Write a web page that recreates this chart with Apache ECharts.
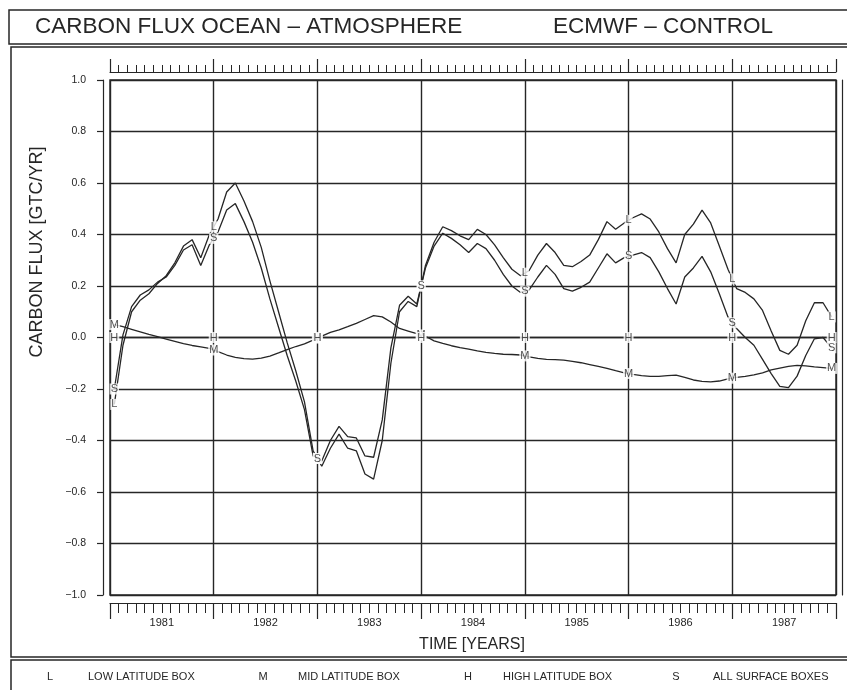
<!DOCTYPE html>
<html><head><meta charset="utf-8">
<script src="https://cdn.jsdelivr.net/npm/echarts@6/dist/echarts.min.js"></script>
<style>html,body{margin:0;padding:0;background:#fff}#c{width:847px;height:690px}</style>
</head><body><div id="c"></div>
<script>
// ---- data (monthly values, Jan 1981 .. Dec 1987) ----
const years = ['1981','1982','1983','1984','1985','1986','1987'];
const yTickLabels = ['\u22121.0','\u22120.8','\u22120.6','\u22120.4','\u22120.2','0.0','0.2','0.4','0.6','0.8','1.0'];
const legendKeys = ['L','M','H','S'];
const legendNames = ['LOW LATITUDE BOX','MID LATITUDE BOX','HIGH LATITUDE BOX','ALL SURFACE BOXES'];

const lowLat = [
  -0.26, -0.03, 0.10, 0.145, 0.17, 0.21, 0.24, 0.29, 0.355, 0.38, 0.31, 0.40,
  0.46, 0.565, 0.60, 0.53, 0.45, 0.35, 0.22, 0.10, -0.02, -0.13, -0.25, -0.44,
  -0.50, -0.43, -0.375, -0.43, -0.44, -0.53, -0.55, -0.40, -0.10, 0.10, 0.14, 0.12,
  0.28, 0.37, 0.43, 0.415, 0.395, 0.38, 0.42, 0.40, 0.36, 0.31, 0.265, 0.24,
  0.26, 0.32, 0.365, 0.33, 0.28, 0.275, 0.295, 0.32, 0.38, 0.45, 0.42, 0.445,
  0.465, 0.48, 0.46, 0.41, 0.345, 0.29, 0.40, 0.44, 0.495, 0.445, 0.355, 0.265,
  0.19, 0.175, 0.15, 0.105, 0.025, -0.05, -0.065, -0.03, 0.065, 0.135, 0.135, 0.08
];
const midLat = [
  0.05, 0.042, 0.032, 0.022, 0.012, 0.003, -0.006, -0.015, -0.024, -0.031, -0.036, -0.042,
  -0.055, -0.068, -0.077, -0.082, -0.084, -0.08, -0.072, -0.06, -0.047, -0.035, -0.025, -0.01,
  0.005, 0.02, 0.03, 0.042, 0.055, 0.07, 0.085, 0.08, 0.06, 0.035, 0.025, 0.015,
  0.005, -0.013, -0.023, -0.032, -0.039, -0.045, -0.052, -0.058, -0.062, -0.065, -0.066, -0.068,
  -0.075, -0.081, -0.085, -0.086, -0.088, -0.093, -0.098, -0.105, -0.112, -0.12, -0.129, -0.137,
  -0.143, -0.148, -0.151, -0.151, -0.148, -0.146, -0.155, -0.165, -0.17, -0.172, -0.169, -0.161,
  -0.155, -0.151, -0.145, -0.137, -0.126, -0.119, -0.112, -0.108, -0.11, -0.114, -0.117, -0.12
];
const highLat = [
  0, 0, 0, 0, 0, 0, 0, 0, 0, 0, 0, 0,
  0, 0, 0, 0, 0, 0, 0, 0, 0, 0, 0, 0,
  0, 0, 0, 0, 0, 0, 0, 0, 0, 0, 0, 0,
  0, 0, 0, 0, 0, 0, 0, 0, 0, 0, 0, 0,
  0, 0, 0, 0, 0, 0, 0, 0, 0, 0, 0, 0,
  0, 0, 0, 0, 0, 0, 0, 0, 0, 0, 0, 0,
  0, 0, 0, 0, 0, 0, 0, 0, 0, 0, 0, 0
];
const allSurf = [
  -0.20, 0.01, 0.12, 0.165, 0.185, 0.215, 0.235, 0.28, 0.34, 0.36, 0.28, 0.36,
  0.41, 0.495, 0.52, 0.45, 0.37, 0.27, 0.15, 0.04, -0.07, -0.17, -0.28, -0.46,
  -0.48, -0.40, -0.345, -0.385, -0.39, -0.46, -0.465, -0.32, -0.04, 0.125, 0.16, 0.13,
  0.27, 0.355, 0.405, 0.385, 0.36, 0.33, 0.365, 0.345, 0.30, 0.245, 0.20, 0.175,
  0.185, 0.235, 0.28, 0.245, 0.19, 0.18, 0.195, 0.215, 0.27, 0.325, 0.29, 0.31,
  0.32, 0.33, 0.31, 0.255, 0.19, 0.13, 0.235, 0.27, 0.315, 0.255, 0.17, 0.08,
  0.035, 0.0, -0.03, -0.085, -0.14, -0.19, -0.195, -0.15, -0.07, -0.005, 0.0, -0.04
];

// ---- build ----
const INK = '#262626';
const FONT = 'Liberation Sans';
const seriesArrays = [lowLat, midLat, highLat, allSurf];

function lineData(arr) { return arr.map((v, i) => [i + 0.5, v]); }
function markerData(arr) {
  const n = arr.length, out = [];
  for (let b = 0; b <= n; b += 12) {
    if (b === 0) out.push([0.5, arr[0]]);
    else if (b >= n) out.push([n - 0.5, arr[n - 1]]);
    else out.push([b, (arr[b - 1] + arr[b]) / 2]);
  }
  return out;
}

const series = [];
seriesArrays.forEach((arr) => {
  series.push({
    type: 'line', data: lineData(arr), symbol: 'none', silent: true, z: 3,
    lineStyle: { color: INK, width: 1.3 }
  });
});
seriesArrays.forEach((arr, k) => {
  series.push({
    type: 'scatter', data: markerData(arr), symbolSize: 1, z: 5, silent: true,
    itemStyle: { color: 'rgba(0,0,0,0)' },
    label: {
      show: true, position: 'inside', formatter: legendKeys[k],
      fontFamily: FONT, fontSize: 11, color: INK,
      backgroundColor: '#fff', padding: [0, 1, 0, 1]
    }
  });
});

const nMonths = lowLat.length;
const baseX = { type: 'value', min: 0, max: nMonths, gridIndex: 0 };

const option = {
  animation: false,
  backgroundColor: '#fff',
  textStyle: { fontFamily: FONT },
  grid: { left: 110, right: 11, top: 80, bottom: 95, show: true, borderColor: INK, borderWidth: 1.4 },
  xAxis: [
    Object.assign({}, baseX, {
      interval: 12, position: 'bottom',
      axisLine: { show: false, onZero: false }, axisTick: { show: false }, axisLabel: { show: false },
      splitLine: { show: true, lineStyle: { color: INK, width: 1.4 } }
    }),
    Object.assign({}, baseX, {
      interval: 12, position: 'top', offset: 8,
      axisLine: { show: true, onZero: false, lineStyle: { color: INK, width: 1.2 } },
      axisTick: { show: true, length: 13, lineStyle: { color: INK, width: 1.2 } },
      minorTick: { show: true, splitNumber: 12, length: 7, lineStyle: { color: INK, width: 1 } },
      axisLabel: { show: false }, splitLine: { show: false }
    }),
    Object.assign({}, baseX, {
      interval: 12, position: 'bottom', offset: 8,
      axisLine: { show: true, onZero: false, lineStyle: { color: INK, width: 1.2 } },
      axisTick: { show: true, length: 16, lineStyle: { color: INK, width: 1.2 } },
      minorTick: { show: true, splitNumber: 12, length: 10, lineStyle: { color: INK, width: 1 } },
      axisLabel: { show: false }, splitLine: { show: false }
    }),
    Object.assign({}, baseX, {
      interval: 6, position: 'bottom', offset: 8,
      axisLine: { show: false, onZero: false }, axisTick: { show: false }, splitLine: { show: false },
      axisLabel: {
        show: true, margin: 14, fontSize: 11, color: INK, fontFamily: FONT,
        formatter: v => (Math.round(v) % 12 === 6 ? years[(Math.round(v) - 6) / 12] : '')
      }
    })
  ],
  yAxis: [
    {
      type: 'value', min: -1, max: 1, interval: 0.2, position: 'left', offset: 7,
      axisLine: { show: true, onZero: false, lineStyle: { color: INK, width: 1.2 } },
      axisTick: { show: true, length: 6, lineStyle: { color: INK, width: 1.2 } },
      axisLabel: {
        margin: 17, fontSize: 10.5, color: INK, fontFamily: FONT,
        formatter: v => yTickLabels[Math.round((v + 1) / 0.2)]
      },
      splitLine: { show: true, lineStyle: { color: INK, width: 1.4 } }
    },
    {
      type: 'value', min: -1, max: 1, interval: 0.2, position: 'right', offset: 6,
      axisLine: { show: true, onZero: false, lineStyle: { color: INK, width: 1.2 } },
      axisTick: { show: false },
      axisLabel: { show: false }, splitLine: { show: false }
    }
  ],
  series: series,
  graphic: [
    { type: 'rect', shape: { x: 9, y: 10, width: 860, height: 34 }, style: { fill: 'none', stroke: INK, lineWidth: 1.5 }, silent: true },
    { type: 'rect', shape: { x: 11, y: 47, width: 860, height: 610 }, style: { fill: 'none', stroke: INK, lineWidth: 1.5 }, silent: true },
    { type: 'rect', shape: { x: 11, y: 660, width: 860, height: 40 }, style: { fill: 'none', stroke: INK, lineWidth: 1.5 }, silent: true },
    { type: 'text', x: 35, y: 27, style: { text: 'CARBON FLUX OCEAN \u2013 ATMOSPHERE', fontSize: 22.5, fontFamily: FONT, fill: INK, verticalAlign: 'middle' } },
    { type: 'text', x: 553, y: 27, style: { text: 'ECMWF \u2013 CONTROL', fontSize: 22.5, fontFamily: FONT, fill: INK, verticalAlign: 'middle' } },
    { type: 'text', x: 37, y: 252, rotation: Math.PI / 2, style: { text: 'CARBON FLUX [GTC/YR]', fontSize: 18, fontFamily: FONT, fill: INK, align: 'center', verticalAlign: 'middle' } },
    { type: 'text', x: 472, y: 645, style: { text: 'TIME [YEARS]', fontSize: 16, fontFamily: FONT, fill: INK, align: 'center', verticalAlign: 'middle' } },
    { type: 'text', x: 50, y: 677, style: { text: legendKeys[0], fontSize: 11, fontFamily: FONT, fill: INK, align: 'center', verticalAlign: 'middle' } },
    { type: 'text', x: 88, y: 677, style: { text: legendNames[0], fontSize: 11, fontFamily: FONT, fill: INK, verticalAlign: 'middle' } },
    { type: 'text', x: 263, y: 677, style: { text: legendKeys[1], fontSize: 11, fontFamily: FONT, fill: INK, align: 'center', verticalAlign: 'middle' } },
    { type: 'text', x: 298, y: 677, style: { text: legendNames[1], fontSize: 11, fontFamily: FONT, fill: INK, verticalAlign: 'middle' } },
    { type: 'text', x: 468, y: 677, style: { text: legendKeys[2], fontSize: 11, fontFamily: FONT, fill: INK, align: 'center', verticalAlign: 'middle' } },
    { type: 'text', x: 503, y: 677, style: { text: legendNames[2], fontSize: 11, fontFamily: FONT, fill: INK, verticalAlign: 'middle' } },
    { type: 'text', x: 676, y: 677, style: { text: legendKeys[3], fontSize: 11, fontFamily: FONT, fill: INK, align: 'center', verticalAlign: 'middle' } },
    { type: 'text', x: 713, y: 677, style: { text: legendNames[3], fontSize: 11, fontFamily: FONT, fill: INK, verticalAlign: 'middle' } }
  ]
};

const chart = echarts.init(document.getElementById('c'), null, { renderer: 'canvas' });
chart.setOption(option);
</script>
</body></html>
